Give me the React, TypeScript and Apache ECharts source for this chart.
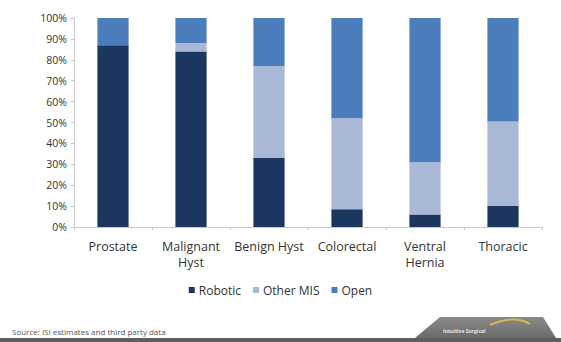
import React, { useEffect, useRef } from "react";
import * as echarts from "echarts";

const categories = ["Prostate", "Malignant\nHyst", "Benign Hyst", "Colorectal", "Ventral\nHernia", "Thoracic"];
const robotic = [87, 84, 33, 8.5, 6, 10];
const otherMis = [0, 4, 44, 43.5, 25, 40.5];
const open = [13, 12, 23, 48, 69, 49.5];
const yTicks = [0, 10, 20, 30, 40, 50, 60, 70, 80, 90, 100];

const FONT = "'Open Sans', Lato, sans-serif";

export default function App() {
  const ref = useRef<HTMLDivElement>(null);
  useEffect(() => {
    const chart = echarts.init(ref.current!, null, { renderer: "svg" });
    chart.setOption({
      animation: false,
      backgroundColor: "#ffffff",
      textStyle: { fontFamily: FONT },
      grid: { left: 74, right: 19, top: 18, bottom: 115 },
      legend: {
        top: 279,
        left: "center",
        itemWidth: 6,
        itemHeight: 6,
        itemGap: 12,
        icon: "rect",
        textStyle: { fontSize: 12, color: "#333", fontFamily: FONT, padding: [0, 0, 0, -1] },
        data: ["Robotic", "Other MIS", "Open"],
      },
      xAxis: {
        type: "category",
        data: categories,
        axisLine: { lineStyle: { color: "#c8c8c8" } },
        axisTick: { show: true, length: 3, lineStyle: { color: "#c8c8c8" } },
        axisLabel: {
          interval: 0,
          hideOverlap: false,
          fontSize: 12.5,
          color: "#333",
          margin: 11,
          lineHeight: 16,
          fontFamily: FONT,
        },
      },
      yAxis: {
        type: "value",
        min: 0,
        max: 100,
        interval: 10,
        axisLine: { show: true, lineStyle: { color: "#c8c8c8" } },
        axisTick: { show: true, length: 3, lineStyle: { color: "#c8c8c8" } },
        splitLine: { show: false },
        axisLabel: {
          fontSize: 10.5,
          color: "#333",
          margin: 7,
          fontFamily: FONT,
          formatter: (v: number) => (yTicks.includes(v) ? v + "%" : ""),
        },
      },
      series: [
        { name: "Robotic", type: "bar", stack: "s", data: robotic, barWidth: "40%", itemStyle: { color: "#1b365f" } },
        { name: "Other MIS", type: "bar", stack: "s", data: otherMis, itemStyle: { color: "#a9b8d6" } },
        { name: "Open", type: "bar", stack: "s", data: open, itemStyle: { color: "#4b7dbd" } },
      ],
      graphic: [
        {
          type: "text",
          left: 12,
          top: 327,
          style: { text: "Source: ISI estimates and third party data", fontSize: 8, fill: "#555", fontFamily: FONT },
        },
        {
          type: "rect",
          shape: { x: 0, y: 338, width: 561, height: 4 },
          style: { fill: "#5e5e5e" },
        },
        {
          type: "polygon",
          shape: { points: [[415, 338], [440, 317], [543, 317], [556, 338]] },
          style: {
            fill: new echarts.graphic.LinearGradient(0, 0, 0, 1, [
              { offset: 0, color: "#8a8a8a" },
              { offset: 1, color: "#6a6a6a" },
            ]),
          },
        },
        {
          type: "text",
          left: 443,
          top: 328,
          style: { text: "Intuitive Surgical", fontSize: 5, fill: "#e6e6e6", fontFamily: FONT, fontWeight: "bold" },
        },
        {
          type: "bezierCurve",
          shape: { x1: 490, y1: 325, x2: 530, y2: 324, cpx1: 505, cpy1: 318, cpx2: 520, cpy2: 318 },
          style: { stroke: "#d8b84a", lineWidth: 2, fill: "none" },
        },
      ],
    });
    return () => chart.dispose();
  }, []);
  return <div ref={ref} style={{ width: 561, height: 342, position: "absolute", left: 0, top: 0 }} />;
}
